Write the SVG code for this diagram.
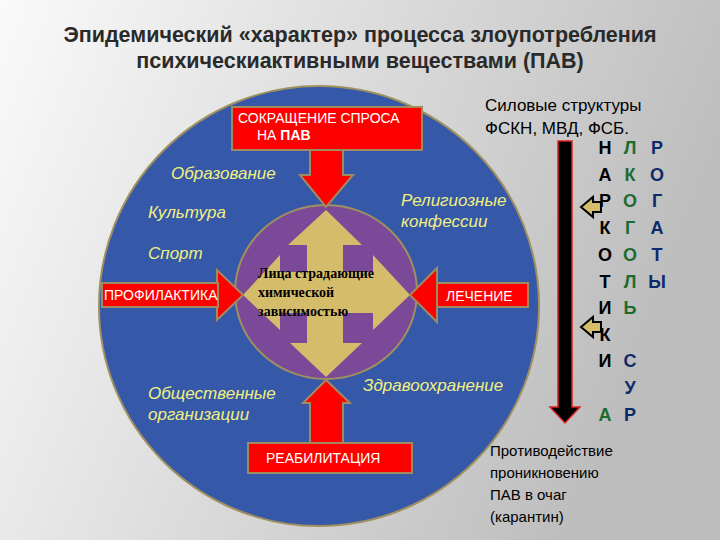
<svg xmlns="http://www.w3.org/2000/svg" width="720" height="540" viewBox="0 0 720 540">
<defs>
<linearGradient id="bg" x1="0" y1="0" x2="1" y2="0.3"><stop offset="0" stop-color="#fafafa"/><stop offset="1" stop-color="#bdbdbd"/></linearGradient>
<style>
.t{font-family:"Liberation Sans",Arial,sans-serif}
.title{font-size:21.5px;font-weight:bold;fill:#2a2a2a;text-anchor:middle}
.y{font-family:"Liberation Sans",Arial,sans-serif;font-style:italic;font-size:17px;fill:#f0f080}
.red{fill:#ff0000;stroke:#a08a60;stroke-width:2}
.w{font-family:"Liberation Sans",Arial,sans-serif;font-size:14px;fill:#fff}
.L{font-family:"Liberation Sans",Arial,sans-serif;font-size:18px;font-weight:bold;text-anchor:middle}
.k{fill:#000}.g{fill:#1e6b30}.b{fill:#0d2a6b}
.s{fill:#d4bc6a;stroke:#000;stroke-width:2}
</style>
</defs>
<rect width="720" height="540" fill="url(#bg)"/>
<g class="t">
<text class="title" x="360" y="42">Эпидемический «характер» процесса злоупотребления</text>
<text class="title" x="360" y="68">психическиактивными веществами (ПАВ)</text>
</g>
<g id="circle">
<circle cx="319" cy="306" r="220" fill="#3558a8" stroke="#a09060" stroke-width="2"/>
<ellipse cx="326" cy="292" rx="91" ry="87" fill="#7a4a98" stroke="#a09060" stroke-width="2"/>
</g>
<g id="cross">
<polygon fill="#d4bc6a" points="326,210 362,245 343,245 343,272 373,272 373,255 410,295 373,330 373,313 343,313 343,343 362,343 326,377 290,343 307,343 307,313 280,313 280,330 243,295 280,255 280,272 307,272 307,245 288,245"/>
<text x="258" y="278" font-family="Liberation Serif,serif" font-weight="bold" font-size="14">Лица страдающие</text>
<text x="258" y="297" font-family="Liberation Serif,serif" font-weight="bold" font-size="14">химической</text>
<text x="258" y="316" font-family="Liberation Serif,serif" font-weight="bold" font-size="14">зависимостью</text>
</g>
<g id="connectors">
<polygon class="red" points="310,150 310,175 300,175 326,207 353,175 343,175 343,150"/>
<polygon class="red" points="310,443 310,403 303,403 326,380 350,403 343,403 343,443"/>
<polygon class="red" points="215,283 217,283 217,270 243,295 217,320 217,307 215,307"/>
<polygon class="red" points="439,283 437,283 437,268 410,295 437,322 437,307 439,307"/>
</g>
<g id="top"><rect class="red" x="232" y="107" width="190" height="43"/>
<text class="w" x="238" y="123">СОКРАЩЕНИЕ СПРОСА</text><text class="w" x="257" y="140">НА   <tspan font-weight="bold">ПАВ</tspan></text></g>
<g id="bottom"><rect class="red" x="248" y="443" width="164" height="30"/><text class="w" x="266" y="463">РЕАБИЛИТАЦИЯ</text></g>
<g id="left"><rect class="red" x="102" y="283" width="116" height="24"/><text class="w" x="104" y="300" font-size="13">ПРОФИЛАКТИКА</text></g>
<g id="right"><rect class="red" x="437" y="283" width="91" height="24"/><text class="w" x="446" y="301">ЛЕЧЕНИЕ</text></g>
<g id="labels">
<text class="y" x="171" y="179">Образование</text>
<text class="y" x="148" y="218">Культура</text>
<text class="y" x="148" y="259">Спорт</text>
<text class="y" x="401" y="206">Религиозные</text>
<text class="y" x="401" y="227">конфессии</text>
<text class="y" x="148" y="399">Общественные</text>
<text class="y" x="148" y="420">организации</text>
<text class="y" x="363" y="391">Здравоохранение</text>
</g>
<g id="sil" class="t" font-size="17">
<text x="485" y="111">Силовые структуры</text>
<text x="485" y="134">ФСКН, МВД, ФСБ.</text>
</g>
<g id="bigarrow"><polygon points="558,141 572,141 572,407 580,407 565,423 550,407 558,407" fill="#000" stroke="#e02020" stroke-width="1.5"/></g>
<g id="small">
<polygon class="s" points="581,207 593,197 593,202 601,202 601,212 593,212 593,217"/>
<polygon class="s" points="581,327 593,317 593,322 601,322 601,332 593,332 593,337"/>
</g>
<g id="letters">
<text class="L k" x="605" y="154">Н</text><text class="L k" x="605" y="181">А</text><text class="L k" x="605" y="207">Р</text><text class="L k" x="605" y="234">К</text><text class="L k" x="605" y="261">О</text><text class="L k" x="605" y="288">Т</text><text class="L k" x="605" y="314">И</text><text class="L k" x="605" y="341">К</text><text class="L k" x="605" y="367">И</text><text class="L g" x="605" y="421">А</text>
<text class="L g" x="630" y="154">Л</text><text class="L g" x="630" y="181">К</text><text class="L g" x="630" y="207">О</text><text class="L g" x="630" y="234">Г</text><text class="L g" x="630" y="261">О</text><text class="L g" x="630" y="288">Л</text><text class="L g" x="630" y="314">Ь</text><text class="L b" x="630" y="367">С</text><text class="L b" x="630" y="394">У</text><text class="L b" x="630" y="421">Р</text>
<text class="L b" x="657" y="154">Р</text><text class="L b" x="657" y="181">О</text><text class="L b" x="657" y="207">Г</text><text class="L b" x="657" y="234">А</text><text class="L b" x="657" y="261">Т</text><text class="L b" x="657" y="288">Ы</text>
</g>
<g id="protiv" class="t" font-size="15">
<text x="490" y="456">Противодействие</text><text x="490" y="478">проникновению</text><text x="490" y="500">ПАВ в очаг</text><text x="490" y="522">(карантин)</text>
</g>
</svg>
